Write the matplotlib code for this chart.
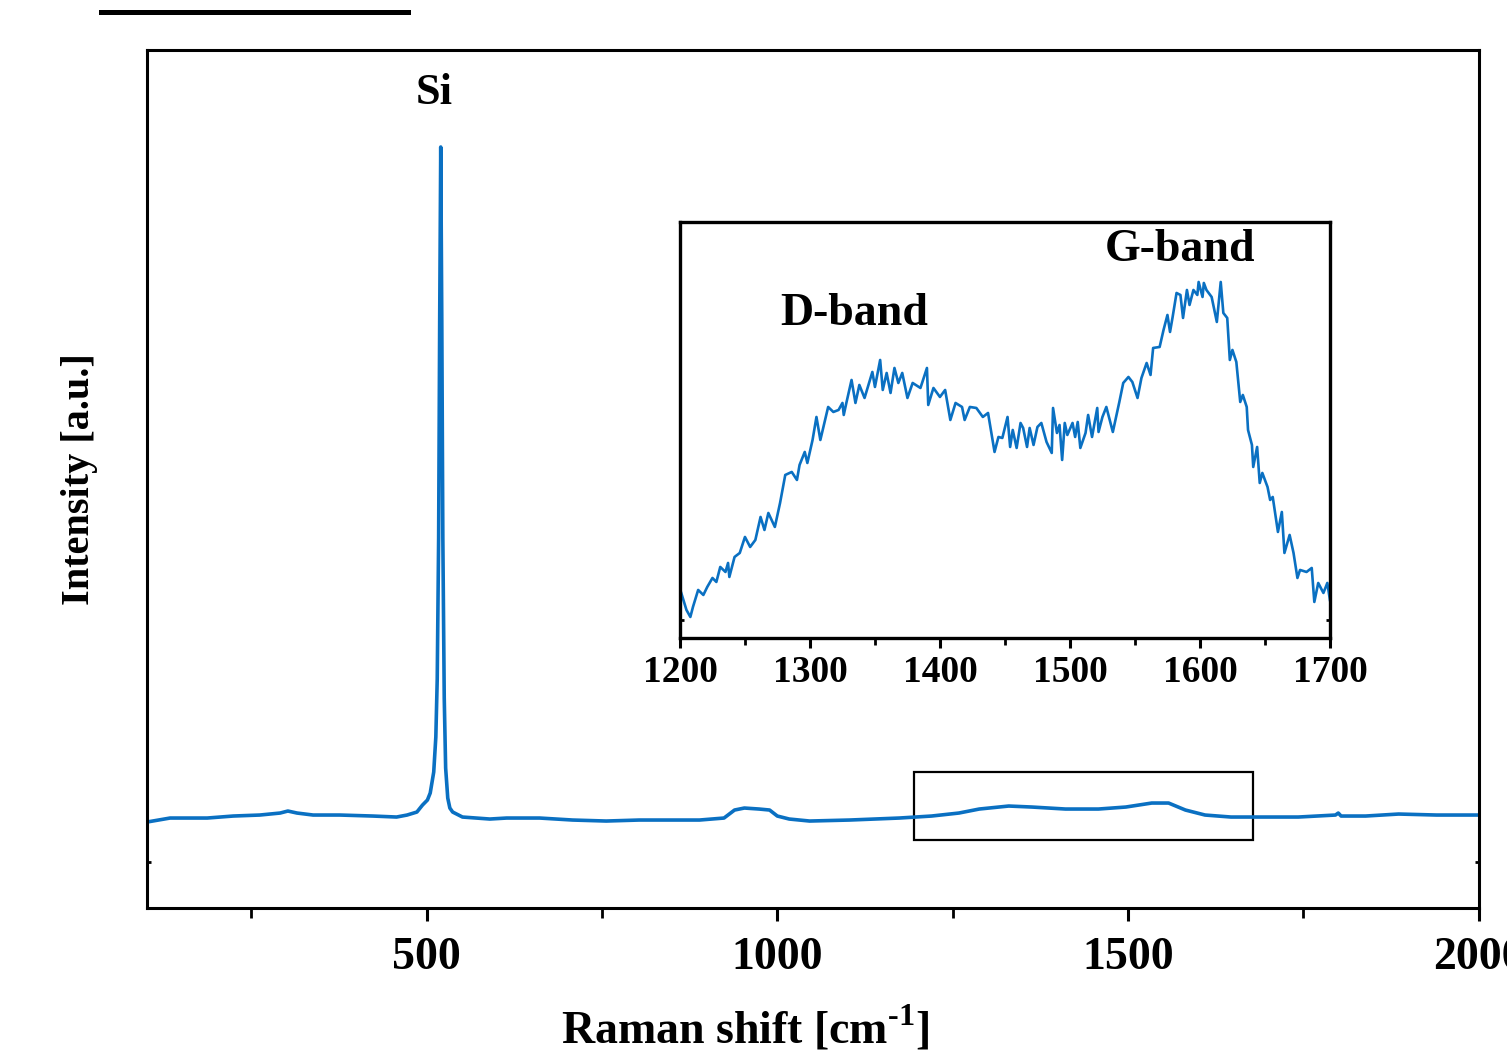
"""Raman spectrum of the Si substrate with a D/G-band inset."""
import matplotlib
matplotlib.use("Agg")
import matplotlib.pyplot as plt
from matplotlib.patches import Rectangle
from matplotlib.ticker import MultipleLocator, FixedLocator

plt.rcParams.update({
    "font.family": ["Liberation Serif", "DejaVu Serif"],
    "font.weight": "bold",
    "mathtext.fontset": "custom",
    "mathtext.rm": "Liberation Serif:bold",
    "mathtext.bf": "Liberation Serif:bold",
    "axes.linewidth": 2.2,
})

BLUE = "#0a70c2"

# ── Data ────────────────────────────────────────────────────
# full spectrum, Raman shift in cm-1, intensity in arbitrary counts
main_shift = [101, 134, 187, 224, 262, 291, 302, 315, 338, 376,
              423, 457, 472, 486, 494, 501, 505, 510, 513, 515,
              517, 518.5, 520, 521.5, 523, 525, 527, 530, 533, 537,
              551, 590, 614, 661, 708, 756, 803, 889, 924, 939,
              953, 974, 989, 1000, 1017, 1046, 1103, 1174, 1220, 1259,
              1288, 1330, 1363, 1411, 1458, 1497, 1534, 1558, 1582, 1610,
              1647, 1696, 1743, 1796, 1800, 1804, 1839, 1886, 1940, 2000]
main_int = [860, 900, 900, 920, 930, 950, 970, 950, 930, 930,
            920, 910, 930, 960, 1030, 1080, 1150, 1360, 1710, 2290,
            3700, 5880, 7610, 5880, 3700, 2100, 1400, 1100, 1000, 960,
            910, 890, 900, 900, 880, 870, 880, 880, 900, 980,
            1000, 990, 980, 920, 890, 870, 880, 900, 920, 950,
            990, 1020, 1010, 990, 990, 1010, 1050, 1050, 980, 930,
            910, 910, 910, 930, 950, 920, 920, 940, 930, 930]

# zoomed D/G-band region
inset_shift = [1201, 1205, 1208, 1210, 1214, 1218, 1221, 1225, 1228, 1231,
               1235, 1237, 1238, 1242, 1246, 1250, 1254, 1258, 1262, 1265,
               1268, 1273, 1277, 1281, 1286, 1290, 1292, 1296, 1298, 1302,
               1305, 1308, 1314, 1318, 1322, 1325, 1326, 1328, 1332, 1335,
               1338, 1342, 1348, 1350, 1354, 1356, 1359, 1362, 1365, 1368,
               1371, 1375, 1379, 1385, 1390, 1391, 1395, 1400, 1404, 1408,
               1412, 1417, 1419, 1423, 1428, 1433, 1437, 1442, 1445, 1448,
               1452, 1454, 1456, 1459, 1462, 1464, 1467, 1469, 1472, 1475,
               1478, 1482, 1486, 1487, 1490, 1492, 1494, 1496, 1498, 1502,
               1504, 1506, 1508, 1512, 1514, 1517, 1521, 1522, 1525, 1528,
               1533, 1538, 1541, 1545, 1548, 1552, 1555, 1559, 1562, 1564,
               1569, 1572, 1575, 1577, 1579, 1582, 1585, 1587, 1590, 1592,
               1595, 1598, 1599, 1602, 1603, 1605, 1609, 1613, 1616, 1618,
               1621, 1623, 1625, 1628, 1631, 1633, 1636, 1637, 1640, 1641,
               1644, 1646, 1648, 1652, 1654, 1656, 1660, 1663, 1665, 1669,
               1672, 1675, 1677, 1682, 1686, 1688, 1691, 1695, 1698, 1700]
inset_int = [913.5, 905, 901.5, 906.5, 915, 912.5, 916.5, 921, 919, 926.5,
             924, 928.5, 921.5, 931.5, 933.5, 941.5, 936.5, 940, 951.5, 945,
             953.5, 946.5, 958.5, 972.5, 974, 970, 977.5, 984, 978.5, 990,
             1001.5, 990, 1006.5, 1004, 1005, 1008.5, 1002.5, 1008.5, 1020, 1008.5,
             1017.5, 1011, 1024, 1016.5, 1030, 1015, 1023.5, 1013.5, 1026, 1018.5,
             1023.5, 1011, 1018.5, 1016, 1026, 1007.5, 1016, 1011.5, 1015, 1000,
             1008.5, 1006.5, 1000, 1006.5, 1006, 1001.5, 1003.5, 984, 991.5, 991,
             1001.5, 986.5, 995, 986, 998.5, 996, 986.5, 996, 987.5, 996.5,
             998.5, 989, 983.5, 1006, 993.5, 997.5, 980, 998.5, 992.5, 998.5,
             991.5, 999, 986, 993.5, 1002.5, 991.5, 1006, 994, 1001.5, 1006.5,
             994, 1009, 1018.5, 1021.5, 1019, 1011, 1021, 1028.5, 1022.5, 1036,
             1036.5, 1045, 1052.5, 1044, 1051.5, 1063.5, 1062.5, 1051, 1065, 1057.5,
             1065, 1062.5, 1069, 1061.5, 1068.5, 1065, 1061.5, 1049, 1069, 1053.5,
             1051, 1030, 1035, 1029, 1009, 1012.5, 1006.5, 995, 987.5, 976.5,
             986.5, 968.5, 973.5, 966.5, 960, 961.5, 944, 954, 933.5, 942.5,
             933.5, 921, 925, 924, 926, 909, 918.5, 913.5, 918.5, 910]

inset_ticks = [1200, 1300, 1400, 1500, 1600, 1700]
main_ticks = [500, 1000, 1500, 2000]

# ── Main axes ───────────────────────────────────────────────
fig = plt.figure(figsize=(15.07, 10.55), dpi=100)
ax = fig.add_axes([0.0975, 0.1393, 0.8836, 0.8133])
ax.plot(main_shift, main_int, color=BLUE, lw=2.6, solid_joinstyle="round")
ax.set_xlim(101, 2000)
ax.set_ylim(0, 8580)

ax.xaxis.set_major_locator(FixedLocator(main_ticks))
ax.xaxis.set_minor_locator(MultipleLocator(250))
ax.tick_params(axis="x", which="major", direction="out", length=9, width=2.2,
               labelsize=33, pad=12)
ax.tick_params(axis="x", which="minor", direction="out", length=7, width=2.0)
ax.yaxis.set_major_locator(FixedLocator([460]))
ax.tick_params(axis="y", direction="in", length=3, width=2.0, labelleft=False,
               right=True)
for lbl in ax.get_xticklabels():
    lbl.set_fontweight("bold")

ax.set_xlabel(r"Raman shift [cm$^{\text{-1}}$]", fontsize=33, fontweight="bold")
ax.xaxis.set_label_coords(0.449, -0.112)
ax.set_ylabel("Intensity [a.u.]", fontsize=29, fontweight="bold")
ax.yaxis.set_label_coords(-0.037, 0.5)

ax.text(510, 8150, "Si", fontsize=32, fontweight="bold", ha="center", va="center")

# box marking the zoomed region
ax.add_patch(Rectangle((1195, 680), 484, 680, fill=False, ec="black", lw=1.6))

# ── Inset ───────────────────────────────────────────────────
axin = fig.add_axes([0.4512, 0.3953, 0.4313, 0.3943])
axin.plot(inset_shift, inset_int, color=BLUE, lw=1.9)
axin.set_xlim(1200, 1700)
axin.set_ylim(891, 1099)
axin.xaxis.set_major_locator(FixedLocator(inset_ticks))
axin.xaxis.set_minor_locator(MultipleLocator(50))
axin.tick_params(axis="x", which="major", direction="out", length=7, width=2.2,
                 labelsize=27, pad=5)
axin.tick_params(axis="x", which="minor", direction="out", length=5, width=2.0)
axin.yaxis.set_major_locator(FixedLocator([900]))
axin.tick_params(axis="y", direction="in", length=3, width=2.0, labelleft=False,
                 right=True)
for s in axin.spines.values():
    s.set_linewidth(2.4)

axin.text(1334, 1053, "D-band", fontsize=33, fontweight="bold", ha="center", va="center")
axin.text(1585, 1085, "G-band", fontsize=33, fontweight="bold", ha="center", va="center")

# underline of the (cropped) panel heading
fig.add_artist(plt.Line2D([0.067, 0.2707], [0.9886, 0.9886], color="black", lw=3.6))

fig.savefig("out.png", dpi=100, facecolor="white")
